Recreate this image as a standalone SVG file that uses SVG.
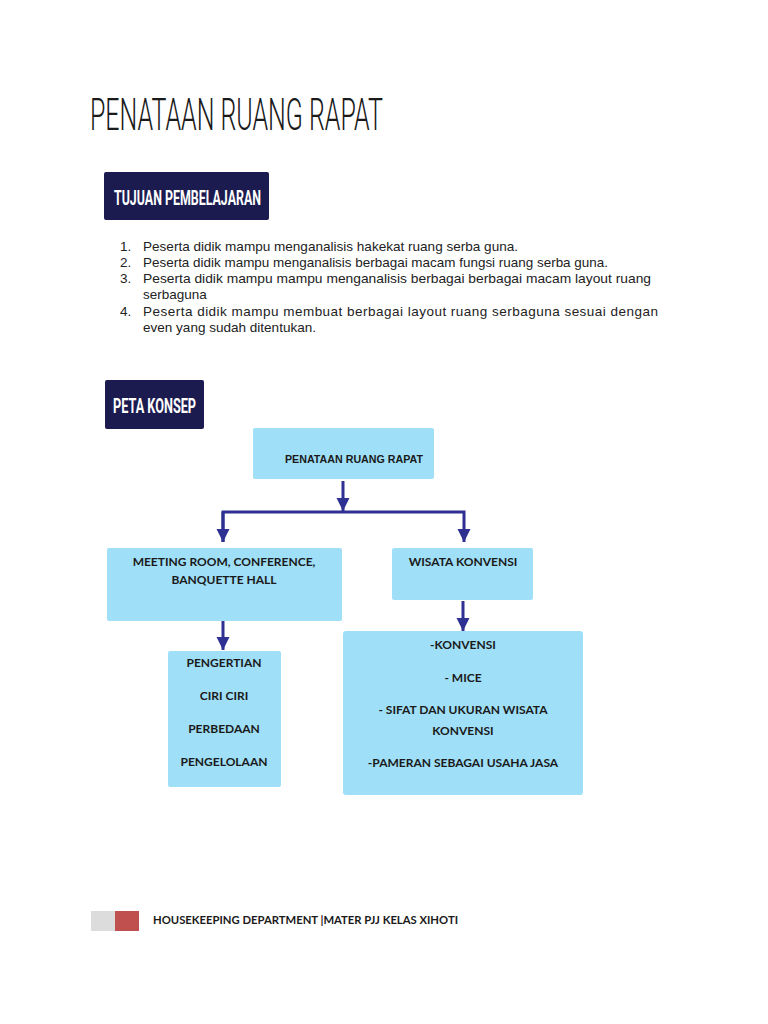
<svg xmlns="http://www.w3.org/2000/svg" width="768" height="1024" viewBox="0 0 768 1024">
<defs>
<style>
.title{font-family:"Roboto","Liberation Sans",sans-serif;font-weight:300;font-size:44px;fill:#1a1a1a;}
.badge{fill:#1c1b4f;}
.badgeT{font-family:"Roboto","Liberation Sans",sans-serif;font-weight:bold;font-size:21px;fill:#fff;}
.list{font-family:"Liberation Sans","Arial",sans-serif;font-size:13.5px;fill:#222;}
.node{fill:#9fdff7;}
.lbl{font-family:"Lato","Open Sans",sans-serif;font-weight:bold;font-size:12px;fill:#1a1a1a;text-anchor:middle;}
.lblA{font-family:"Liberation Sans",sans-serif;font-weight:bold;font-size:11px;fill:#1a1a1a;}
.conn{stroke:#2e3192;stroke-width:3;fill:none;}
.foot{font-family:"Lato","Open Sans",sans-serif;font-weight:bold;font-size:11.5px;fill:#1a1a1a;}
</style>
<marker id="ah" viewBox="0 0 10 10" refX="10" refY="5" markerWidth="4.5" markerHeight="4.5" markerUnits="strokeWidth" orient="auto">
<path d="M0,0 L10,5 L0,10 Z" fill="#2e3192"/>
</marker>
</defs>
<rect width="768" height="1024" fill="#fff"/>

<text class="title" x="90" y="130" textLength="293" lengthAdjust="spacingAndGlyphs">PENATAAN RUANG RAPAT</text>

<g id="tujuan">
<rect class="badge" x="104" y="172" width="165" height="48" rx="2"/>
<text class="badgeT" x="114" y="205" textLength="147" lengthAdjust="spacingAndGlyphs">TUJUAN PEMBELAJARAN</text>
</g>

<g id="list" class="list">
<text x="120" y="251">1.</text><text x="143" y="251" textLength="375" lengthAdjust="spacingAndGlyphs">Peserta didik mampu  menganalisis hakekat ruang serba guna.</text>
<text x="120" y="267">2.</text><text x="143" y="267" textLength="465" lengthAdjust="spacingAndGlyphs">Peserta didik mampu menganalisis berbagai macam fungsi ruang serba guna.</text>
<text x="120" y="283">3.</text><text x="143" y="283" textLength="508" lengthAdjust="spacingAndGlyphs">Peserta didik mampu mampu menganalisis berbagai berbagai macam layout  ruang</text>
<text x="143" y="299">serbaguna</text>
<text x="120" y="316">4.</text><text x="143" y="316" textLength="515" lengthAdjust="spacing">Peserta didik mampu membuat berbagai layout ruang serbaguna sesuai dengan</text>
<text x="143" y="332" textLength="173" lengthAdjust="spacingAndGlyphs">even yang sudah ditentukan.</text>
</g>

<g id="peta">
<rect class="badge" x="105" y="380" width="99" height="49" rx="2"/>
<text class="badgeT" x="113" y="413" textLength="83" lengthAdjust="spacingAndGlyphs">PETA KONSEP</text>
</g>

<g id="connectors">
<line class="conn" x1="343" y1="481" x2="343" y2="511" marker-end="url(#ah)"/>
<polyline class="conn" points="223,542 223,512 464,512 464,542" marker-end="url(#ah)"/>
<line class="conn" x1="223" y1="512" x2="223" y2="542" marker-end="url(#ah)"/>
<line class="conn" x1="223" y1="621" x2="223" y2="650" marker-end="url(#ah)"/>
<line class="conn" x1="463" y1="601" x2="463" y2="631" marker-end="url(#ah)"/>
</g>

<g id="root">
<rect class="node" x="253" y="428" width="181" height="51" rx="2"/>
<text class="lblA" x="285" y="463" textLength="138" lengthAdjust="spacingAndGlyphs">PENATAAN RUANG RAPAT</text>
</g>

<g id="meeting">
<rect class="node" x="107" y="548" width="235" height="73" rx="2"/>
<text class="lbl" x="224" y="566">MEETING ROOM, CONFERENCE,</text>
<text class="lbl" x="224" y="584">BANQUETTE HALL</text>
</g>

<g id="wisata">
<rect class="node" x="392" y="548" width="141" height="52" rx="2"/>
<text class="lbl" x="463" y="566">WISATA KONVENSI</text>
</g>

<g id="pengertian">
<rect class="node" x="168" y="651" width="113" height="136" rx="2"/>
<text class="lbl" x="224" y="667">PENGERTIAN</text>
<text class="lbl" x="224" y="700">CIRI CIRI</text>
<text class="lbl" x="224" y="733">PERBEDAAN</text>
<text class="lbl" x="224" y="766">PENGELOLAAN</text>
</g>

<g id="konvensi">
<rect class="node" x="343" y="631" width="240" height="164" rx="3"/>
<text class="lbl" x="463" y="649">-KONVENSI</text>
<text class="lbl" x="463" y="682">- MICE</text>
<text class="lbl" x="463" y="714">- SIFAT DAN UKURAN WISATA</text>
<text class="lbl" x="463" y="735">KONVENSI</text>
<text class="lbl" x="463" y="767">-PAMERAN SEBAGAI USAHA JASA</text>
</g>

<g id="footer">
<rect x="91" y="911" width="24" height="20" fill="#dcdcdc"/>
<rect x="115" y="911" width="24" height="20" fill="#c0504d"/>
<text class="foot" x="153" y="924" textLength="305" lengthAdjust="spacingAndGlyphs">HOUSEKEEPING DEPARTMENT |MATER PJJ KELAS XIHOTI</text>
</g>
</svg>
